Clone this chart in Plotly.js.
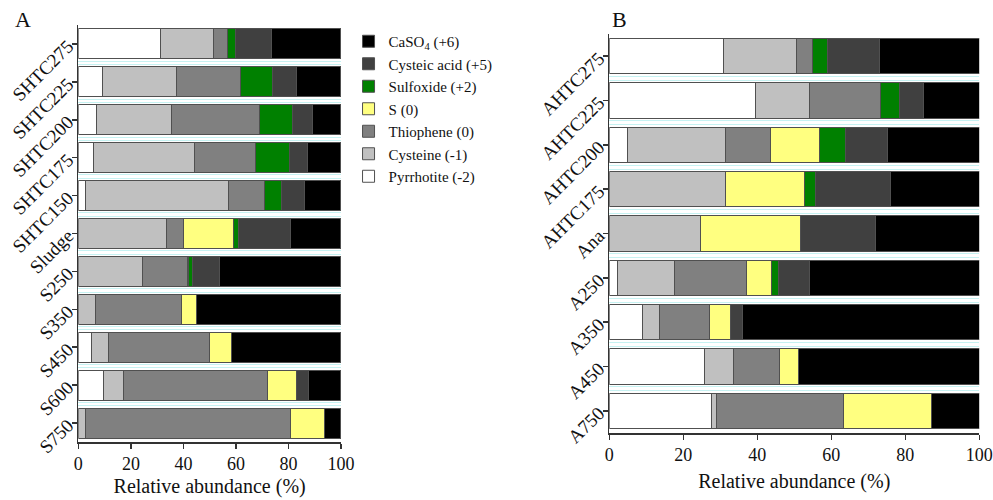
<!DOCTYPE html>
<html><head><meta charset="utf-8">
<script src="https://cdn.plot.ly/plotly-3.0.1.min.js"></script>
<style>html,body{margin:0;padding:0;background:#fff}#chart{width:993px;height:500px}</style>
</head><body><div id="chart"></div>
<script>
const seriesNames = ['Pyrrhotite (-2)','Cysteine (-1)','Thiophene (0)','S (0)','Sulfoxide (+2)','Cysteic acid (+5)','CaSO<sub>4</sub> (+6)'];
const seriesColors = ['#ffffff','#c0c0c0','#808080','#ffff80','#008000','#404040','#000000'];

const samplesA = ['SHTC275','SHTC225','SHTC200','SHTC175','SHTC150','Sludge','S250','S350','S450','S600','S750'];
const pyrrhotiteA = [31.4,9.3,6.9,5.6,2.9,0,0,0,5.0,9.4,0];
const cysteineA   = [19.9,28.0,28.4,38.7,54.2,33.5,24.4,6.5,6.6,7.7,2.7];
const thiopheneA  = [5.4,24.3,33.5,23.2,13.9,6.5,17.2,32.7,38.5,54.9,77.9];
const sulfurA     = [0,0,0,0,0,19.0,0.4,5.9,8.3,11.0,13.3];
const sulfoxideA  = [3.1,12.2,12.7,13.0,6.5,1.9,1.4,0,0,0,0];
const cysteicA    = [13.8,9.2,7.5,6.7,8.5,19.7,10.2,0,0,4.6,0];
const caso4A      = [26.4,17.0,11.0,12.8,14.0,19.4,46.4,54.9,41.6,12.4,6.1];

const samplesB = ['AHTC275','AHTC225','AHTC200','AHTC175','Ana','A250','A350','A450','A750'];
const pyrrhotiteB = [30.8,39.5,4.9,0,0,2.2,8.9,25.7,27.6];
const cysteineB   = [19.8,14.6,26.4,31.4,24.7,15.4,4.6,8.0,1.3];
const thiopheneB  = [4.4,19.1,12.2,0,0,19.6,13.7,12.3,34.5];
const sulfurB     = [0,0,13.4,21.3,26.9,6.6,5.5,5.2,23.7];
const sulfoxideB  = [3.9,5.2,6.9,2.9,0,1.9,0,0,0];
const cysteicB    = [14.2,6.6,11.3,20.3,20.3,8.5,3.4,0,0];
const caso4B      = [26.9,15.0,24.9,24.1,28.1,45.8,63.9,48.8,12.9];

const xTicks = [0,20,40,60,80,100];

const seriesA = [pyrrhotiteA,cysteineA,thiopheneA,sulfurA,sulfoxideA,cysteicA,caso4A];
const seriesB = [pyrrhotiteB,cysteineB,thiopheneB,sulfurB,sulfoxideB,cysteicB,caso4B];

const FONT = 'Liberation Serif';
const nz = arr => arr.map(v => v === 0 ? null : v);
const traces = [];
seriesNames.forEach((name, i) => {
  traces.push({type:'bar', orientation:'h', name:name,
    x:nz(seriesA[i]), y:samplesA, xaxis:'x', yaxis:'y', width:0.79,
    marker:{color:seriesColors[i], line:{color:'#505050', width:1}}, hoverinfo:'x+y+name'});
});
seriesNames.forEach((name, i) => {
  traces.push({type:'bar', orientation:'h', name:name, showlegend:false,
    x:nz(seriesB[i]), y:samplesB, xaxis:'x2', yaxis:'y2', width:0.79,
    marker:{color:seriesColors[i], line:{color:'#505050', width:1}}, hoverinfo:'x+y+name'});
});

function boundaries(n){
  const v=[];
  for(let i=0;i<n-1;i++){ v.push(i+0.5-0.045); v.push(i+0.5+0.045); }
  return v;
}

const xCommon = {range:[0,100], tickmode:'array', tickvals:xTicks, ticks:'outside', ticklen:5,
  tickwidth:1.5, tickcolor:'#333', showline:true, linecolor:'#333', linewidth:1.5, showgrid:false,
  zeroline:false, tickfont:{family:FONT,size:18,color:'#111'}, automargin:false, fixedrange:true};
const yCommon = {type:'category', ticks:'outside', ticklen:5, tickwidth:1.5, tickcolor:'#333',
  showline:true, linecolor:'#333', linewidth:1.5, showgrid:false, zeroline:false, tickangle:-45,
  tickfont:{family:FONT,size:19,color:'#111'}, automargin:false, fixedrange:true};
const gridCommon = {type:'linear', tickmode:'array', showticklabels:false, ticks:'', showline:false,
  showgrid:true, gridcolor:'#c6f2f2', gridwidth:1, zeroline:false, fixedrange:true};

const layout = {
  width:993, height:500, margin:{l:0,r:0,t:0,b:0}, paper_bgcolor:'#fff', plot_bgcolor:'rgba(0,0,0,0)',
  barmode:'stack', showlegend:true,
  font:{family:FONT, color:'#111'},
  xaxis: Object.assign({}, xCommon, {domain:[0.0789,0.3434], anchor:'y',
    title:{text:'Relative abundance (%)', font:{family:FONT,size:20,color:'#111'}, standoff:6}}),
  yaxis: Object.assign({}, yCommon, {domain:[0.116,0.95], anchor:'x',
    range:[samplesA.length-0.5,-0.5], categoryarray:samplesA, categoryorder:'array'}),
  xaxis2: Object.assign({}, xCommon, {domain:[0.6136,0.9862], anchor:'y2',
    title:{text:'Relative abundance (%)', font:{family:FONT,size:20,color:'#111'}, standoff:10}}),
  yaxis2: Object.assign({}, yCommon, {domain:[0.134,0.932], anchor:'x2',
    range:[samplesB.length-0.5,-0.5], categoryarray:samplesB, categoryorder:'array'}),
  yaxis3: Object.assign({}, gridCommon, {overlaying:'y', anchor:'x', range:[samplesA.length-0.5,-0.5],
    tickvals:boundaries(samplesA.length)}),
  yaxis4: Object.assign({}, gridCommon, {overlaying:'y2', anchor:'x2', range:[samplesB.length-0.5,-0.5],
    tickvals:boundaries(samplesB.length)}),
  legend:{x:0.351, y:0.95, xanchor:'left', yanchor:'top', traceorder:'reversed',
    font:{family:FONT,size:15,color:'#111'}, bgcolor:'rgba(0,0,0,0)',
    itemwidth:30, itemclick:false, itemdoubleclick:false},
  annotations:[
    {text:'A', x:0.013, y:0.99, xref:'paper', yref:'paper', xanchor:'left', yanchor:'top', showarrow:false,
     font:{family:FONT,size:22,color:'#111'}},
    {text:'B', x:0.614, y:0.99, xref:'paper', yref:'paper', xanchor:'left', yanchor:'top', showarrow:false,
     font:{family:FONT,size:22,color:'#111'}}
  ]
};
traces.push({type:'scatter', x:[null], y:[null], xaxis:'x', yaxis:'y3', showlegend:false, hoverinfo:'skip'});
traces.push({type:'scatter', x:[null], y:[null], xaxis:'x2', yaxis:'y4', showlegend:false, hoverinfo:'skip'});

Plotly.newPlot('chart', traces, layout, {displayModeBar:false, staticPlot:true});
</script></body></html>
